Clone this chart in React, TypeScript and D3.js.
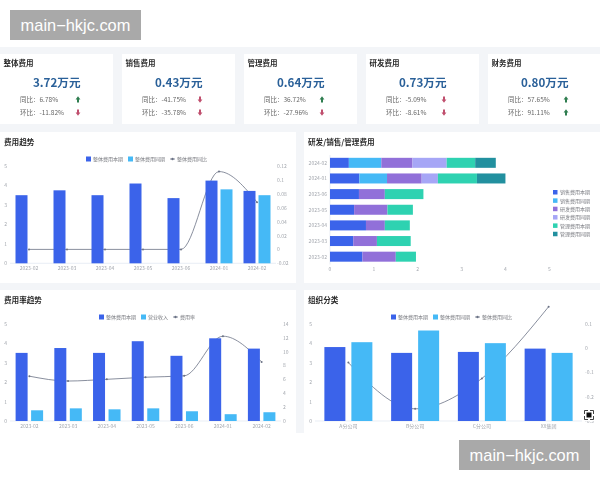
import React from 'react';
import * as d3 from 'd3';

const FONT = '"Noto Sans CJK SC", "Noto Sans", sans-serif';

// kpi cards
const cardNames = ['整体费用', '销售费用', '管理费用', '研发费用', '财务费用'];
const cardValues = ['3.72万元', '0.43万元', '0.64万元', '0.73万元', '0.80万元'];
const cardYoy = [6.78, -41.75, 36.72, -5.09, 57.65];
const cardMom = [-11.82, -35.78, -27.96, -8.61, 91.11];

// shared months
const months = ['2023-02', '2023-03', '2023-04', '2023-05', '2023-06', '2024-01', '2024-02'];
const totalCurrent = [3.5, 3.75, 3.5, 4.1, 3.35, 4.25, 3.72];

// 费用趋势
const totalPrior = [0, 0, 0, 0, 0, 3.8, 3.5];
const totalYoy = [0, 0, 0, 0, 0, 0.112, 0.068];
const trendTicksRight = [-0.02, 0, 0.02, 0.04, 0.06, 0.08, 0.1, 0.12];

// 费用率趋势
const revenue = [0.55, 0.65, 0.6, 0.65, 0.5, 0.35, 0.45];
const rate = [6.45, 5.75, 6, 6.3, 6.5, 12.2, 8.5];
const rateTicksRight = [0, 2, 4, 6, 8, 10, 12, 14];

// 研发/销售/管理费用
const stackKeys = ['销售费用本期', '销售费用同期', '研发费用本期', '研发费用同期', '管理费用本期', '管理费用同期'];
const stackColors = ['#3b64ea', '#45b9f6', '#9170d9', '#a6a6f6', '#2fd2b1', '#23909f'];
const saleCurrent = [0.74, 0.53, 0.82, 0.55, 0.66, 0.67, 0.43];
const salePrior = [0, 0, 0, 0, 0, 0.63, 0.74];
const rdCurrent = [0.76, 0.54, 0.43, 0.76, 0.59, 0.79, 0.71];
const rdPrior = [0, 0, 0, 0, 0, 0.37, 0.78];
const mgmtCurrent = [0.46, 0.77, 0.57, 0.58, 0.88, 0.89, 0.65];
const mgmtPrior = [0, 0, 0, 0, 0, 0.65, 0.47];
const stackSeries = [saleCurrent, salePrior, rdCurrent, rdPrior, mgmtCurrent, mgmtPrior];

// 组织分类
const orgs = ['A分公司', 'B分公司', 'C分公司', 'XX集团'];
const orgCurrent = [3.8, 3.5, 3.55, 3.72];
const orgPrior = [4.05, 4.65, 4.0, 3.5];
const orgYoy = [-0.06, -0.25, -0.125, 0.17];
const orgTicksRight = [-0.3, -0.2, -0.1, 0, 0.1];

const leftTicks = [0, 1, 2, 3, 4, 5];
const BLUE = '#3b64ea';
const SKY = '#45b9f6';
const AXIS_TEXT = '#a3a7ae';
const LEGEND_TEXT = '#77797f';

function Panel({x, y, w, h, title}: {x: number; y: number; w: number; h: number; title: string}) {
    return (
        <g>
            <rect x={x} y={y} width={w} height={h} fill="#fff" />
            <text x={x + 4} y={y + 13} fontSize={7.6} fontWeight={700} fill="#2a2a2a">{title}</text>
        </g>
    );
}

type ComboProps = {
    cats: string[];
    barA: number[];
    barB: number[];
    line: number[];
    rightDomain: [number, number];
    rightTicks: number[];
    xRange: [number, number];
    yRange: [number, number];
    barW: number;
    gap: number;
    rightX: number;
    legend: string[];
    legendX: number;
    legendY: number;
};

function Combo(p: ComboProps) {
    const x = d3.scaleBand<string>().domain(p.cats).range(p.xRange);
    const y = d3.scaleLinear().domain([0, 5]).range(p.yRange);
    const yR = d3.scaleLinear().domain(p.rightDomain).range(p.yRange);
    const mid = (c: string) => x(c)! + x.bandwidth() / 2;
    const path = d3.line<number>()
        .x((_, i) => mid(p.cats[i]))
        .y((d) => yR(d))
        .curve(d3.curveMonotoneX)(p.line)!;
    return (
        <g fontFamily={FONT}>
            {leftTicks.map((t) => (
                <text key={t} x={p.xRange[0] - 3} y={y(t) + 2} fontSize={5} fill={AXIS_TEXT} textAnchor="end">{t}</text>
            ))}
            {p.rightTicks.map((t) => (
                <text key={t} x={p.rightX} y={yR(t) + 2} fontSize={5} fill={AXIS_TEXT}>{t}</text>
            ))}
            <line x1={p.xRange[0]} x2={p.xRange[1]} y1={p.yRange[0]} y2={p.yRange[0]} stroke="#e0e6f1" strokeWidth={0.7} />
            <path d={path} fill="none" stroke="#6b7285" strokeWidth={0.8} />
            {p.line.map((d, i) => (
                <circle key={i} cx={mid(p.cats[i])} cy={yR(d)} r={1} fill="#6b7285" />
            ))}
            {p.cats.map((c, i) => (
                <g key={c}>
                    <rect x={mid(c) - p.gap / 2 - p.barW} y={y(p.barA[i])} width={p.barW} height={y(0) - y(p.barA[i])} fill={BLUE} />
                    {p.barB[i] > 0 && (
                        <rect x={mid(c) + p.gap / 2} y={y(p.barB[i])} width={p.barW} height={y(0) - y(p.barB[i])} fill={SKY} />
                    )}
                    <text x={mid(c)} y={p.yRange[0] + 7} fontSize={5} fill={AXIS_TEXT} textAnchor="middle">{c}</text>
                </g>
            ))}
            <Legend names={p.legend} x={p.legendX} y={p.legendY} />
        </g>
    );
}

function Legend({names, x, y}: {names: string[]; x: number; y: number}) {
    let cx = x;
    return (
        <g>
            {names.map((n, i) => {
                const start = cx;
                cx += 7 + n.length * 5 + 5;
                const isLine = i === 2;
                return (
                    <g key={n}>
                        {isLine ? (
                            <g>
                                <line x1={start} x2={start + 5} y1={y} y2={y} stroke="#6b7285" strokeWidth={0.8} />
                                <circle cx={start + 2.5} cy={y} r={1.2} fill="#6b7285" />
                            </g>
                        ) : (
                            <rect x={start} y={y - 2.5} width={5} height={5} fill={i === 0 ? BLUE : SKY} />
                        )}
                        <text x={start + 7} y={y + 2} fontSize={5} fill={LEGEND_TEXT}>{n}</text>
                    </g>
                );
            })}
        </g>
    );
}

function Cards() {
    const x = d3.scaleBand<string>().domain(cardNames).range([-2, 608]);
    const arrow = (v: number, cx: number, cy: number) => {
        const up = v >= 0;
        const dir = up ? -1 : 1;
        return (
            <path
                d={`M${cx},${cy + dir * 3.2}L${cx + 2.4},${cy}L${cx + 1},${cy}L${cx + 1},${cy - dir * 3}L${cx - 1},${cy - dir * 3}L${cx - 1},${cy}L${cx - 2.4},${cy}Z`}
                fill={up ? '#2f7d4f' : '#c0506e'}
            />
        );
    };
    return (
        <g fontFamily={FONT}>
            {cardNames.map((n, i) => {
                const left = x(n)!;
                return (
                    <g key={n}>
                        <rect x={left + 2} y={54} width={x.bandwidth() - 9} height={70} fill="#fff" />
                        <text x={left + 5.5} y={66} fontSize={7.5} fontWeight={700} fill="#2a2a2a">{n}</text>
                        <text x={left + 35} y={86.5} fontSize={11.6} fontWeight={700} fill="#2b6199">{cardValues[i]}</text>
                        <text x={left + 22} y={101.5} fontSize={6.5} fill="#666">同比：{cardYoy[i].toFixed(2)}%</text>
                        <text x={left + 22} y={114.7} fontSize={6.5} fill="#666">环比：{cardMom[i].toFixed(2)}%</text>
                        {arrow(cardYoy[i], left + 80, 99.5)}
                        {arrow(cardMom[i], left + 80, 112.5)}
                    </g>
                );
            })}
        </g>
    );
}

function Stack() {
    const y = d3.scaleBand<string>().domain(months).range([264.5, 155]).paddingInner(0.36).paddingOuter(0.18);
    const x = d3.scaleLinear().domain([0, 5]).range([330, 549.3]);
    const rows = months.map((m, i) => {
        const row: Record<string, number | string> = {month: m};
        stackKeys.forEach((k, j) => { row[k] = stackSeries[j][i]; });
        return row;
    });
    const layers = d3.stack<Record<string, number | string>>().keys(stackKeys)(rows);
    return (
        <g fontFamily={FONT}>
            {months.map((m) => (
                <text key={m} x={327} y={y(m)! + y.bandwidth() / 2 + 2} fontSize={5} fill={AXIS_TEXT} textAnchor="end">{m}</text>
            ))}
            {x.ticks(5).map((t) => (
                <text key={t} x={x(t)} y={271} fontSize={5} fill={AXIS_TEXT} textAnchor="middle">{t}</text>
            ))}
            <line x1={330} x2={330} y1={155} y2={264.5} stroke="#e0e6f1" strokeWidth={0.7} />
            {layers.map((layer, j) => (
                <g key={layer.key} fill={stackColors[j]}>
                    {layer.map((d, i) => (
                        <rect key={i} x={x(d[0])} y={y(months[i])!} width={x(d[1]) - x(d[0])} height={y.bandwidth()} />
                    ))}
                </g>
            ))}
            {stackKeys.map((k, j) => (
                <g key={k}>
                    <rect x={553} y={190 + j * 8.35} width={4.5} height={4.5} fill={stackColors[j]} />
                    <text x={560} y={194.2 + j * 8.35} fontSize={5} fill={LEGEND_TEXT}>{k}</text>
                </g>
            ))}
        </g>
    );
}

export default function App() {
    return (
        <svg width={600} height={480} viewBox="0 0 600 480" style={{position: 'absolute', left: 0, top: 0}} fontFamily={FONT}>
            <defs>
                <filter id="soft" x="0" y="0" width="100%" height="100%">
                    <feGaussianBlur stdDeviation={0.35} />
                </filter>
            </defs>
            <rect width={600} height={480} fill="#fff" />
            <g filter="url(#soft)">
                <rect y={47} width={600} height={386} fill="#f3f5f8" />
                <Cards />
                <Panel x={0} y={132} w={296} h={151} title="费用趋势" />
                <Panel x={304} y={132} w={296} h={151} title="研发/销售/管理费用" />
                <Panel x={0} y={290} w={296} h={143} title="费用率趋势" />
                <Panel x={304} y={290} w={296} h={143} title="组织分类" />
                <Combo
                    cats={months} barA={totalCurrent} barB={totalPrior} line={totalYoy}
                    rightDomain={[-0.02, 0.12]} rightTicks={trendTicksRight}
                    xRange={[10, 276]} yRange={[263.3, 166]} barW={12} gap={3} rightX={277}
                    legend={['整体费用本期', '整体费用同期', '整体费用同比']} legendX={86} legendY={159}
                />
                <Stack />
                <Combo
                    cats={months} barA={totalCurrent} barB={revenue} line={rate}
                    rightDomain={[0, 14]} rightTicks={rateTicksRight}
                    xRange={[10, 281]} yRange={[421, 323.7]} barW={12} gap={3.5} rightX={283}
                    legend={['整体费用本期', '营业收入', '费用率']} legendX={99} legendY={317}
                />
                <Combo
                    cats={orgs} barA={orgCurrent} barB={orgPrior} line={orgYoy}
                    rightDomain={[-0.3, 0.1]} rightTicks={orgTicksRight}
                    xRange={[315, 582]} yRange={[421, 323.7]} barW={21} gap={6} rightX={585}
                    legend={['整体费用本期', '整体费用同期', '整体费用同比']} legendX={391} legendY={317}
                />
                <rect x={583} y={409} width={12} height={12} fill="#fff" />
                <rect x={586.5} y={412.5} width={5} height={5} fill="#111" />
                <path d="M584.5,414V410.5H588M590,410.5H593.5V414M593.5,416V419.5H590M588,419.5H584.5V416" fill="none" stroke="#111" strokeWidth={0.8} />
            </g>
            <g fontFamily="Liberation Sans, Arimo, sans-serif" fontSize={16.4}>
                <rect x={10} y={10} width={131} height={30} fill="#a9a9a9" />
                <text x={75.5} y={30.5} fill="#fff" textAnchor="middle">main−hkjc.com</text>
                <rect x={459} y={440} width={131} height={30} fill="#a9a9a9" />
                <text x={524.5} y={460.5} fill="#fff" textAnchor="middle">main−hkjc.com</text>
            </g>
        </svg>
    );
}
